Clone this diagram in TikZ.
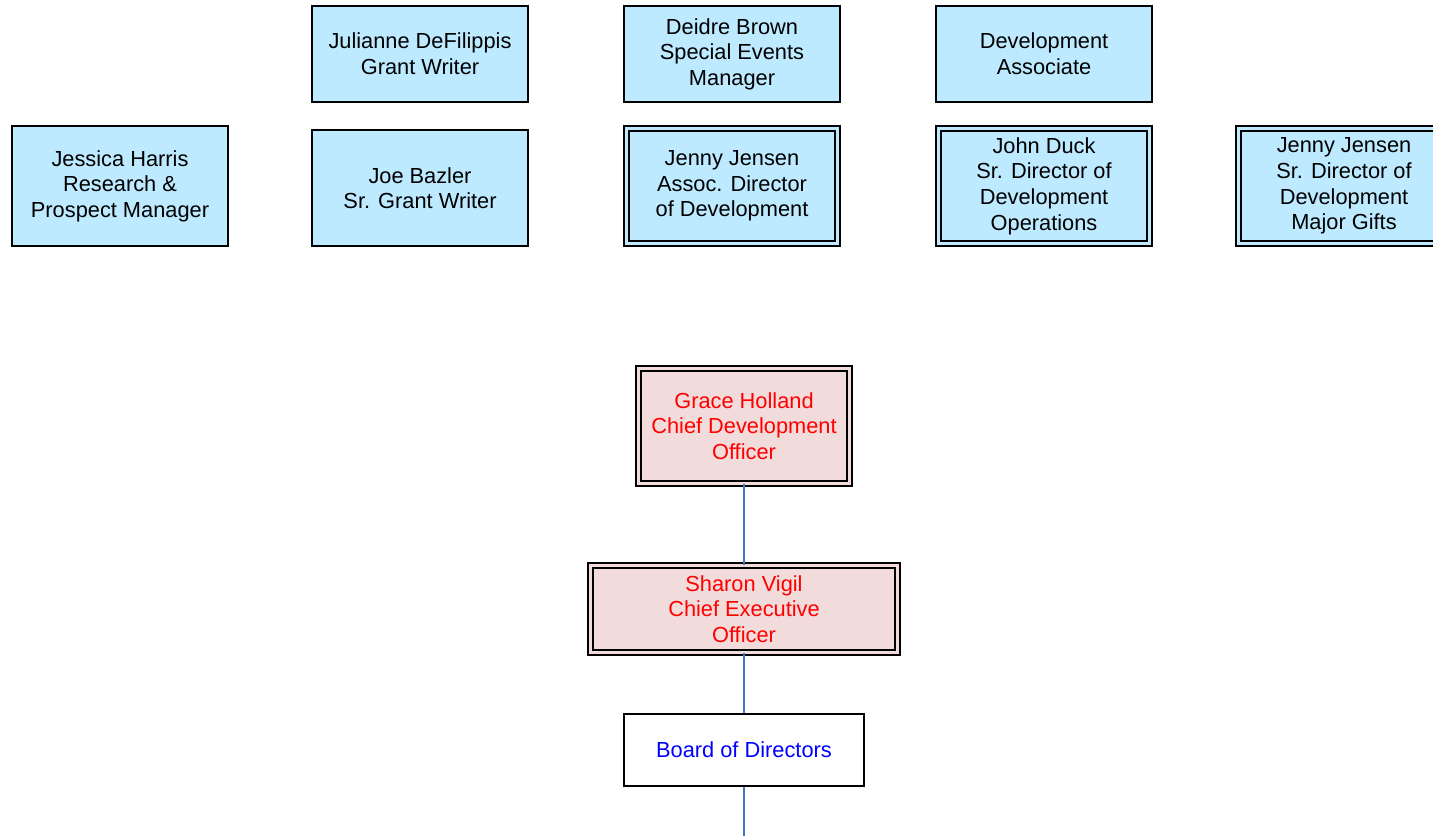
\documentclass[tikz,border=0pt]{standalone}
\usepackage{fontspec}
\setmainfont{Liberation Sans}
\usetikzlibrary{positioning}
\definecolor{staffblue}{RGB}{189,234,255}
\definecolor{execpink}{RGB}{242,220,219}
\definecolor{linkblue}{RGB}{68,114,196}
\definecolor{execred}{RGB}{255,0,0}
\definecolor{boardblue}{RGB}{0,0,255}
\def\dblW{0.9pt}
\def\dblGap{1.6pt}

\begin{document}
\begin{tikzpicture}[
    x=0.5pt, y=-0.5pt,
    every node/.style={font=\fontsize{10.9}{12.8}\selectfont, align=center, inner sep=0pt},
    staff/.style={draw=black, line width=1pt, fill=staffblue, minimum width=108pt, minimum height=48pt},
    lead/.style={staff, line width=\dblW, double=staffblue, double distance=\dblGap,
        minimum width=105.4pt, minimum height=57.4pt},
    exec/.style={draw=black, line width=\dblW, fill=execpink, double=execpink,
        double distance=\dblGap, text=execred},
    board/.style={draw=black, line width=1pt, fill=white, text=boardblue,
        minimum width=120pt, minimum height=36pt},
    link/.style={draw=linkblue, line width=0.75pt}
]
\useasboundingbox (0,0) rectangle (1433,836);

% top row
\node[staff] (julianne) at (420,54) {Julianne DeFilippis\\Grant Writer};
\node[staff] (deidre) at (732,54) {Deidre Brown\\Special Events\\Manager};
\node[staff] (devassoc) at (1044,54) {Development\\Associate};

% second row
\node[staff, minimum height=60pt] (jessica) at (120,186) {Jessica Harris\\Research \&\\Prospect Manager};
\node[staff, minimum height=58pt] (joe) at (420,188) {Joe Bazler\\Sr. Grant Writer};
\node[lead] (jennyassoc) at (732,186) {Jenny Jensen\\Assoc. Director\\of Development};
\node[lead] (john) at (1044,186) {John Duck\\Sr. Director of\\Development\\Operations};
\node[lead] (jennymajor) at (1344,186) {Jenny Jensen\\Sr. Director of\\Development\\Major Gifts};

% executives
\node[exec, minimum width=105.4pt, minimum height=57.4pt] (grace) at (744,426)
    {Grace Holland\\Chief Development\\Officer};
\node[exec, minimum width=153.4pt, minimum height=43.4pt] (sharon) at (744,609)
    {Sharon Vigil\\Chief Executive\\Officer};
\node[board] (board) at (744,750) {Board of Directors};
\coordinate (boardfoot) at (744,836);

\draw[link] (grace) -- (sharon);
\draw[link] (sharon) -- (board);
\draw[link] (board) -- (boardfoot);
\end{tikzpicture}
\end{document}
